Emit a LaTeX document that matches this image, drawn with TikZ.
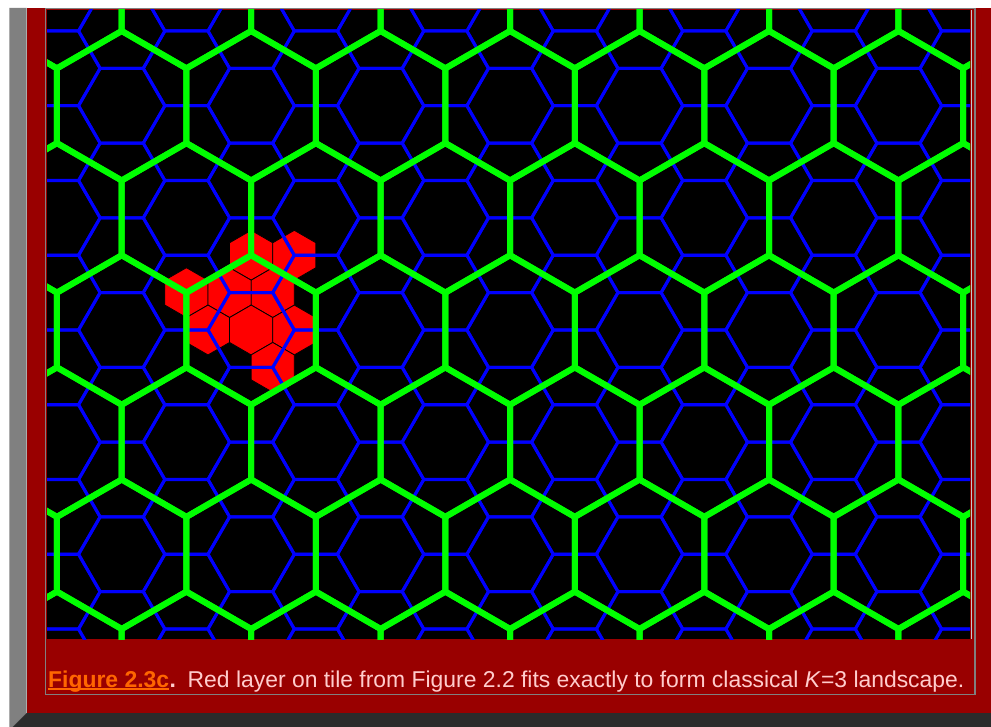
\documentclass[tikz,border=0pt]{standalone}
\usepackage{fontspec}
\setmainfont{Liberation Sans}
\definecolor{framered}{HTML}{990000}
\definecolor{bevelgray}{HTML}{808080}
\definecolor{beveldark}{HTML}{2B2B2B}
\definecolor{innergray}{HTML}{808080}
\definecolor{edgelight}{HTML}{C8C8C8}
\definecolor{latgreen}{HTML}{00FF00}
\definecolor{latblue}{HTML}{0000FF}
\definecolor{layerred}{HTML}{FF0000}
\definecolor{figorange}{HTML}{FF6600}
\definecolor{captext}{HTML}{FFCCCC}
\tikzset{
  bluehex/.style={draw=latblue, line width=3pt, line join=round},
  greenhex/.style={draw=latgreen, line width=6pt, line join=round},
  redhex/.style={fill=layerred, draw=black, line width=0.8pt},
  captionfont/.style={font=\fontsize{22.9}{27}\selectfont, inner sep=0pt, anchor=base west},
}
\begin{document}
\begin{tikzpicture}[x=1pt,y=-1pt]
\useasboundingbox (0,0) rectangle (991,727);
\fill[white] (0,0) rectangle (991,727);
\fill[framered] (26.7,8) rectangle (991,713);
\fill[bevelgray] (9.3,8) -- (26.7,8) -- (26.7,713) -- (12.7,727) -- (9.3,727) -- cycle;
\fill[beveldark] (26.7,713) -- (991,713) -- (991,727) -- (12.7,727) -- cycle;
\draw[innergray, line width=1.5pt] (45.5,8.75) rectangle (975,694.5);
\fill[black] (47,10) rectangle (970,639);
\begin{scope}
\clip (47,10) rectangle (970,639);
% red layer
\foreach \cx/\cy in {251.15/255.25, 294.31/255.25,
                     186.41/292.625, 229.57/292.625, 272.73/292.625,
                     207.99/330, 251.15/330, 294.31/330,
                     272.73/367.375}
  \filldraw[redhex] (\cx,\cy) +(30:24.92) -- +(90:24.92) -- +(150:24.92)
     -- +(210:24.92) -- +(270:24.92) -- +(330:24.92) -- cycle;
% blue lattice (flat-top)
\foreach \m in {-1,...,14}
  \foreach \n in {-10,...,9} {
    \pgfmathsetmacro\cx{121.7+64.73*\m}
    \pgfmathsetmacro\cy{105.75+74.75*\n+37.375*\m}
    \draw[bluehex] (\cx,\cy) +(0:43.16) -- +(60:43.16) -- +(120:43.16)
       -- +(180:43.16) -- +(240:43.16) -- +(300:43.16) -- cycle;
  }
% green lattice (pointy-top)
\foreach \r in {-1,...,5}
  \foreach \k in {-1,...,7} {
    \pgfmathsetmacro\cx{121.7+129.46*\k+64.73*mod(\r+2,2)}
    \pgfmathsetmacro\cy{105.75+112.125*\r}
    \draw[greenhex] (\cx,\cy) +(30:74.75) -- +(90:74.75) -- +(150:74.75)
       -- +(210:74.75) -- +(270:74.75) -- +(330:74.75) -- cycle;
  }
\end{scope}
\draw[edgelight, line width=1.2pt] (971.6,10) -- (971.6,639);
% caption
\node[captionfont, text=figorange, font=\fontsize{22.9}{27}\selectfont\bfseries] (fig) at (48,687) {Figure 2.3c};
\draw[figorange, line width=1.5pt] ([yshift=-2pt]fig.base west) -- ([yshift=-2pt]fig.base east);
\node[captionfont, text=captext, font=\fontsize{22.9}{27}\selectfont\bfseries] (dot) at (fig.base east) {.};
\node[captionfont, text=captext] (cap) at (187.5,687) {Red layer on tile from Figure 2.2 fits exactly to form classical \textit{K}=3 landscape.};
\end{tikzpicture}
\end{document}
